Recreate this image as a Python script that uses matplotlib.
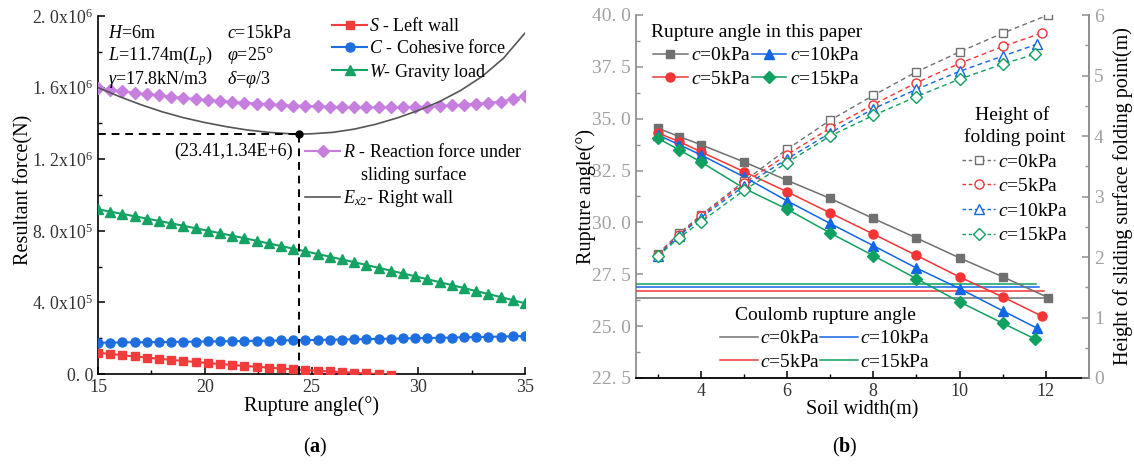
import matplotlib
matplotlib.use("Agg")
import matplotlib.pyplot as plt
from matplotlib.lines import Line2D

plt.rcParams['font.family'] = ['Liberation Serif', 'DejaVu Serif']
plt.rcParams['mathtext.fontset'] = 'custom'
plt.rcParams['mathtext.rm'] = 'Liberation Serif'
plt.rcParams['mathtext.it'] = 'Liberation Serif:italic'
plt.rcParams['mathtext.bf'] = 'Liberation Serif:bold'

# ---------------- Panel (a) data ----------------
angle = [15.00, 15.57, 16.14, 16.71, 17.29, 17.86, 18.43, 19.00, 19.57, 20.14,
         20.71, 21.29, 21.86, 22.43, 23.00, 23.57, 24.14, 24.71, 25.29, 25.86,
         26.43, 27.00, 27.57, 28.14, 28.71, 29.29, 29.86, 30.43, 31.00, 31.57,
         32.14, 32.71, 33.29, 33.86, 34.43, 35.00]
S_left = [0.1190, 0.1119, 0.1050, 0.0982, 0.0916, 0.0852, 0.0790, 0.0729, 0.0670, 0.0613,
          0.0558, 0.0505, 0.0453, 0.0403, 0.0355, 0.0308, 0.0264, 0.0221, 0.0180, 0.0140,
          0.0103, 0.0067, 0.0033, 0.0000, -0.0030]
C_coh = [0.1750, 0.1757, 0.1764, 0.1771, 0.1778, 0.1786, 0.1794, 0.1802, 0.1810, 0.1818,
         0.1827, 0.1836, 0.1845, 0.1855, 0.1864, 0.1874, 0.1884, 0.1895, 0.1905, 0.1916,
         0.1927, 0.1938, 0.1950, 0.1962, 0.1974, 0.1986, 0.1998, 0.2011, 0.2024, 0.2037,
         0.2050, 0.2064, 0.2077, 0.2091, 0.2106, 0.2120]
W_grav = [0.9200, 0.9072, 0.8944, 0.8814, 0.8682, 0.8550, 0.8416, 0.8280, 0.8144, 0.8006,
          0.7866, 0.7726, 0.7584, 0.7440, 0.7296, 0.7150, 0.7002, 0.6854, 0.6704, 0.6553,
          0.6400, 0.6246, 0.6091, 0.5934, 0.5776, 0.5617, 0.5457, 0.5295, 0.5132, 0.4967,
          0.4801, 0.4634, 0.4466, 0.4296, 0.4125, 0.3952]
R_react = [1.597, 1.588, 1.579, 1.571, 1.563, 1.556, 1.549, 1.542, 1.536, 1.530,
           1.525, 1.520, 1.515, 1.511, 1.507, 1.503, 1.500, 1.497, 1.495, 1.493,
           1.491, 1.490, 1.489, 1.489, 1.490, 1.491, 1.492, 1.494, 1.497, 1.501,
           1.505, 1.510, 1.515, 1.522, 1.535, 1.554]
E_angle = [15, 16, 17, 18, 19, 20, 21, 22, 23, 24, 24.42, 25, 26, 27, 28, 29, 30,
           31, 32, 33, 34, 35]
E_right = [1.600, 1.550, 1.505, 1.465, 1.432, 1.405, 1.382, 1.363, 1.350, 1.342, 1.340,
           1.342, 1.350, 1.368, 1.395, 1.430, 1.472, 1.522, 1.585, 1.663, 1.765, 1.905]
opt_angle = 24.42
opt_force = 1.34

# ---------------- Panel (b) data ----------------
width_c0 = [3, 3.5, 4, 5, 6, 7, 8, 9, 10, 11, 12.05]
width_c5 = [3, 3.5, 4, 5, 6, 7, 8, 9, 10, 11, 11.9]
width_c10 = [3, 3.5, 4, 5, 6, 7, 8, 9, 10, 11, 11.8]
width_c15 = [3, 3.5, 4, 5, 6, 7, 8, 9, 10, 11, 11.74]
rup_c0 = [34.55, 34.14, 33.75, 32.92, 32.03, 31.16, 30.19, 29.25, 28.29, 27.38, 26.38]
rup_c5 = [34.32, 33.90, 33.41, 32.45, 31.48, 30.46, 29.44, 28.41, 27.37, 26.41, 25.49]
rup_c10 = [34.22, 33.75, 33.26, 32.20, 31.04, 29.95, 28.88, 27.80, 26.81, 25.74, 24.90]
rup_c15 = [34.06, 33.50, 32.92, 31.65, 30.64, 29.49, 28.40, 27.29, 26.17, 25.14, 24.39]
fold_c0 = [2.05, 2.39, 2.69, 3.25, 3.78, 4.26, 4.67, 5.06, 5.39, 5.70, 6.00]
fold_c5 = [2.03, 2.37, 2.67, 3.22, 3.69, 4.13, 4.52, 4.88, 5.20, 5.48, 5.70]
fold_c10 = [2.02, 2.35, 2.65, 3.17, 3.62, 4.05, 4.45, 4.77, 5.07, 5.32, 5.52]
fold_c15 = [2.01, 2.32, 2.58, 3.10, 3.56, 4.00, 4.34, 4.65, 4.94, 5.19, 5.35]
coulomb = {'c0': 26.38, 'c5': 26.68, 'c10': 26.89, 'c15': 27.03}
coulomb_end = {'c0': 12.1, 'c5': 11.95, 'c10': 11.85, 'c15': 11.77}

W, H = 1134, 465
fig = plt.figure(figsize=(W / 100, H / 100), dpi=100)

def fr(x0, y0, x1, y1):
    return [x0 / W, 1 - y1 / H, (x1 - x0) / W, (y1 - y0) / H]

def anchor(x, y):
    return (x / W, 1 - y / H)

FSa = 13     # panel (a) legend / annotation text
FSb = 14     # panel (b) legend text
FL = 14.5    # axis labels
# ======================= Panel (a) =======================
ax = fig.add_axes(fr(98, 16, 525, 374))
red, blue, green, purple = '#f23c3c', '#1f6ee0', '#14a363', '#c77fdf'
scale = 1e6
ax.plot(angle, [v * scale for v in R_react], color=purple, marker='D', ms=6.5, lw=1.5, zorder=3)
ax.plot(E_angle, [v * scale for v in E_right], color='#555555', lw=1.2, zorder=4)
ax.plot(angle[:len(S_left)], [v * scale for v in S_left], color=red, marker='s', ms=6, lw=1.5, zorder=3)
ax.plot(angle, [v * scale for v in C_coh], color=blue, marker='o', ms=6.5, lw=1.5, zorder=3)
ax.plot(angle, [v * scale for v in W_grav], color=green, marker='^', ms=7, lw=1.5, zorder=3)
ax.plot([15, opt_angle], [opt_force * scale] * 2, color='black', ls=(0, (4, 3)), lw=1.4, zorder=5)
ax.plot([opt_angle, opt_angle], [0, opt_force * scale], color='black', ls=(0, (4, 3)), lw=1.4, zorder=5)
ax.plot([opt_angle], [opt_force * scale], 'o', color='black', ms=5, zorder=6)
ax.text(24.15, 1.245e6, '(23.41,1.34E+6)', ha='right', va='center', fontsize=FSa)

ax.set_xlim(15, 35)
ax.set_ylim(0, 2.0e6)
ax.set_xticks([15, 20, 25, 30, 35])
ax.set_xticks([17.5, 22.5, 27.5, 32.5], minor=True)
yt = [0, 0.4e6, 0.8e6, 1.2e6, 1.6e6, 2.0e6]
ax.set_yticks(yt)
ax.set_yticklabels(['0. 0', '4. 0x10$^{5}$', '8. 0x10$^{5}$', '1. 2x10$^{6}$',
                    '1. 6x10$^{6}$', '2. 0x10$^{6}$'])
ax.set_yticks([0.2e6, 0.6e6, 1.0e6, 1.4e6, 1.8e6], minor=True)
for s in ['top', 'right']:
    ax.spines[s].set_visible(False)
for s in ['left', 'bottom']:
    ax.spines[s].set_linewidth(1.2)
ax.tick_params(which='both', direction='in', labelcolor='#333333')
ax.tick_params(axis='y', labelsize=12.8)
ax.tick_params(axis='x', labelsize=13)
ax.tick_params(which='major', length=5, width=1.1)
ax.tick_params(which='minor', length=3, width=1.0)
ax.set_xlabel('Rupture angle(°)', fontsize=FL, labelpad=0)
ax.set_ylabel('Resultant force(N)', fontsize=FL)
ax.yaxis.set_label_coords(-0.152, 0.514)

ax.text(15.45, 1.905e6, '$H$=6m', fontsize=FSa, va='center')
ax.text(15.45, 1.777e6, '$L$=11.74m($L_p$)', fontsize=FSa, va='center')
ax.text(15.45, 1.643e6, '$\\gamma$=17.8kN/m3', fontsize=FSa, va='center')
ax.text(21.05, 1.905e6, '$c$=15kPa', fontsize=FSa, va='center')
ax.text(21.05, 1.777e6, '$\\varphi$=25°', fontsize=FSa, va='center')
ax.text(21.05, 1.643e6, '$\\delta$=$\\varphi$/3', fontsize=FSa, va='center')

h1 = [Line2D([], [], color=red, marker='s', ms=6, lw=1.5),
      Line2D([], [], color=blue, marker='o', ms=6.5, lw=1.5),
      Line2D([], [], color=green, marker='^', ms=7, lw=1.5)]
leg1 = ax.legend(h1, ['$S$ - Left wall', '$C$ - Cohesive force', '$W$- Gravity load'],
                 loc='upper left', bbox_to_anchor=anchor(332, 17), bbox_transform=fig.transFigure,
                 frameon=False, fontsize=FSa, handlelength=1.95, handletextpad=0.1,
                 labelspacing=0.24, borderpad=0, borderaxespad=0)
ax.add_artist(leg1)
h2 = [Line2D([], [], color=purple, marker='D', ms=6.5, lw=1.5),
      Line2D([], [], color='none'),
      Line2D([], [], color='#555555', lw=1.2)]
leg2 = ax.legend(h2, ['$R$ - Reaction force under', '    sliding surface', '$E_{x2}$- Right wall'],
                 loc='upper left', bbox_to_anchor=anchor(305, 143), bbox_transform=fig.transFigure,
                 frameon=False, fontsize=FSa, handlelength=1.95, handletextpad=0.15,
                 labelspacing=0.26, borderpad=0, borderaxespad=0)

# ======================= Panel (b) =======================
bx = fig.add_axes(fr(636, 15, 1089, 378))
gray, rc, bc, gc = '#707070', '#f53535', '#1166e6', '#10a060'
lw_s = 1.1
mk = {'s': 6, 'o': 6.5, '^': 7, 'D': 6}
bx.plot(width_c0, rup_c0, color=gray, marker='s', ms=mk['s'], lw=lw_s, zorder=4)
bx.plot(width_c5, rup_c5, color=rc, marker='o', ms=mk['o'], lw=lw_s, zorder=4)
bx.plot(width_c10, rup_c10, color=bc, marker='^', ms=mk['^'], lw=lw_s, zorder=4)
bx.plot(width_c15, rup_c15, color=gc, marker='D', ms=mk['D'], lw=lw_s, zorder=4)
for key, col in [('c0', gray), ('c5', rc), ('c10', bc), ('c15', gc)]:
    bx.plot([2.5, coulomb_end[key]], [coulomb[key]] * 2, color=col, lw=1.1, zorder=3)
bx.set_xlim(2.5, 13)
bx.set_ylim(22.5, 40)
bx.set_xticks([4, 6, 8, 10, 12])
bx.set_xticks([3, 5, 7, 9, 11], minor=True)
byt = [22.5, 25, 27.5, 30, 32.5, 35, 37.5, 40]
bx.set_yticks(byt)
bx.set_yticklabels(['22. 5', '25. 0', '27. 5', '30. 0', '32. 5', '35. 0', '37. 5', '40. 0'])
bx.set_yticks([23.75, 26.25, 28.75, 31.25, 33.75, 36.25, 38.75], minor=True)
bx.spines['top'].set_visible(False)
bx.spines['left'].set_color('#909090')
bx.spines['right'].set_color('#909090')
for s in ['left', 'bottom', 'right']:
    bx.spines[s].set_linewidth(1.3)
bx.tick_params(axis='x', which='both', direction='in', labelsize=13, labelcolor='#333333')
bx.tick_params(axis='y', which='both', direction='in', labelsize=14, labelcolor='#a0a0a0', color='#909090')
bx.tick_params(which='major', length=5, width=1.1)
bx.tick_params(which='minor', length=3, width=1.0)
bx.set_xlabel('Soil width(m)', fontsize=FL, labelpad=0)
bx.set_ylabel('Rupture angle(°)', fontsize=FL)
bx.yaxis.set_label_coords(-0.088, 0.5)

tx = bx.twinx()
ds = (0, (3.5, 2.5))
tx.plot(width_c0, fold_c0, color=gray, marker='s', mfc='white', ms=mk['s'], lw=1.0, ls=ds, zorder=3)
tx.plot(width_c5, fold_c5, color=rc, marker='o', mfc='white', ms=mk['o'], lw=1.0, ls=ds, zorder=3)
tx.plot(width_c10, fold_c10, color=bc, marker='^', mfc='white', ms=mk['^'], lw=1.0, ls=ds, zorder=3)
tx.plot(width_c15, fold_c15, color=gc, marker='D', mfc='white', ms=mk['D'], lw=1.0, ls=ds, zorder=3)
tx.set_ylim(0, 6)
tx.set_yticks([0, 1, 2, 3, 4, 5, 6])
tx.set_yticks([0.5, 1.5, 2.5, 3.5, 4.5, 5.5], minor=True)
for s in ['top', 'left', 'bottom']:
    tx.spines[s].set_visible(False)
tx.spines['right'].set_color('#909090')
tx.spines['right'].set_linewidth(1.3)
tx.tick_params(which='both', direction='in', labelsize=14, labelcolor='#a0a0a0', color='#909090')
tx.tick_params(which='major', length=5, width=1.1)
tx.tick_params(which='minor', length=3, width=1.0)
tx.set_ylabel('Height of sliding surface folding point(m)', fontsize=FL, labelpad=7)

cl = ['$c$=0kPa', '$c$=5kPa', '$c$=10kPa', '$c$=15kPa']
hA = [Line2D([], [], color=gray, marker='s', ms=mk['s'], lw=lw_s),
      Line2D([], [], color=rc, marker='o', ms=mk['o'], lw=lw_s),
      Line2D([], [], color=bc, marker='^', ms=mk['^'], lw=lw_s),
      Line2D([], [], color=gc, marker='D', ms=mk['D'], lw=lw_s)]
legA = tx.legend(hA, cl, ncol=2, title='Rupture angle in this paper', title_fontsize=FSb,
                 loc='upper left', bbox_to_anchor=anchor(651, 24), bbox_transform=fig.transFigure,
                 frameon=False, fontsize=FSb, handlelength=1.75, handletextpad=0.2, columnspacing=0.0,
                 labelspacing=0.3, borderpad=0, borderaxespad=0)
tx.add_artist(legA)
dl = (0, (2.5, 2))
hB = [Line2D([], [], color=gray, marker='s', mfc='white', ms=mk['s'], lw=1.0, ls=dl),
      Line2D([], [], color=rc, marker='o', mfc='white', ms=mk['o'], lw=1.0, ls=dl),
      Line2D([], [], color=bc, marker='^', mfc='white', ms=mk['^'], lw=1.0, ls=dl),
      Line2D([], [], color=gc, marker='D', mfc='white', ms=mk['D'], lw=1.0, ls=dl)]
legB = tx.legend(hB, cl, title='Height of \nfolding point', title_fontsize=FSb,
                 loc='upper left', bbox_to_anchor=anchor(962, 106), bbox_transform=fig.transFigure,
                 frameon=False, fontsize=FSb, handlelength=1.7, handletextpad=0.15,
                 labelspacing=0.36, borderpad=0, borderaxespad=0)
legB.get_title().set_multialignment('center')
legB.get_title().set_linespacing(1.3)
tx.add_artist(legB)
hC = [Line2D([], [], color=c, lw=1.1) for c in [gray, rc, bc, gc]]
legC = tx.legend(hC, cl, ncol=2, title='Coulomb rupture angle', title_fontsize=FSb,
                 loc='upper left', bbox_to_anchor=anchor(720, 307), bbox_transform=fig.transFigure,
                 frameon=False, fontsize=FSb, handlelength=1.95, handletextpad=0.1, columnspacing=0.0,
                 labelspacing=0.3, borderpad=0, borderaxespad=0)

fig.text(315 / W, 1 - 447 / H, '($\\mathbf{a}$)', ha='center', va='center', fontsize=14.5)
fig.text(845 / W, 1 - 447 / H, '($\\mathbf{b}$)', ha='center', va='center', fontsize=14.5)

fig.savefig('out.png', dpi=100)
